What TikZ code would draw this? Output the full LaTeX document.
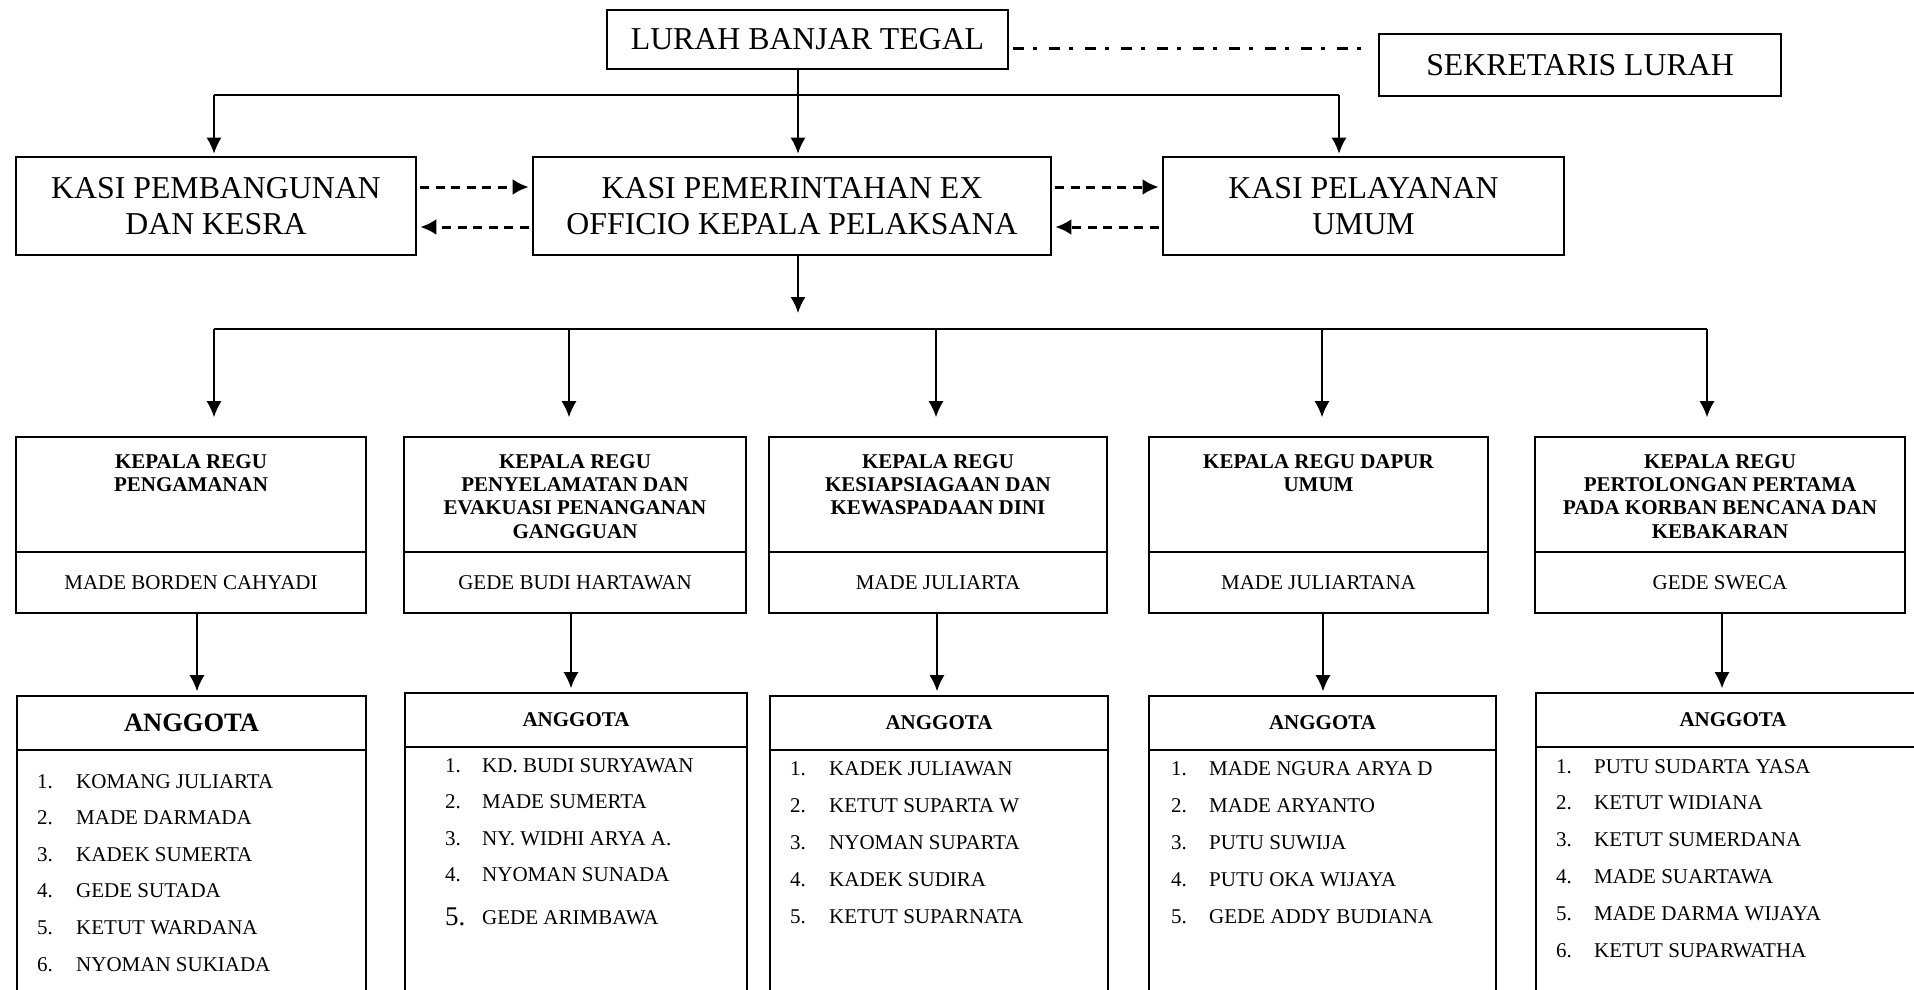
\documentclass[tikz,border=0pt]{standalone}
\usepackage{fontspec}
\setmainfont{Liberation Serif}
\usetikzlibrary{arrows.meta}
\newcommand{\garistebal}{2.7pt}
\newcommand{\garistipis}{1.6pt}

\begin{document}
\begin{tikzpicture}[x=1pt,y=-1pt,
    kotak/.style={draw, rectangle, line width=\garistebal, inner sep=0pt, align=center, font=\fontsize{31.8}{36}\selectfont},
    regu/.style={draw, rectangle, line width=\garistipis, inner sep=0pt, align=center, font=\fontsize{21}{23}\selectfont},
    judul/.style={anchor=north, inner sep=0pt, align=center, font=\bfseries\fontsize{21}{23.3}\selectfont},
    daftar/.style={anchor=west, inner sep=0pt, text height=14pt, text depth=0pt, font=\fontsize{21}{23}\selectfont},
    garis/.style={line width=\garistipis},
    panah/.style={line width=\garistipis, -{Latex[length=16pt,width=15pt]}},
    putus/.style={line width=3pt, dash pattern=on 9pt off 6.5pt, shorten <=3pt, shorten >=3pt, -{Latex[length=16pt,width=16pt]}}]
  \useasboundingbox (0,0) rectangle (1914,989);
  \clip (0,0) rectangle (1914,989);

  % lurah dan sekretaris
  \node (lurah) at (807.5,39.5) [kotak, minimum width=401pt, minimum height=59pt] {LURAH BANJAR TEGAL};
  \node (sekretaris) at (1580,65) [kotak, minimum width=402pt, minimum height=62pt] {SEKRETARIS LURAH};
  \coordinate (titik) at ([yshift=-8.5pt]lurah.east);
  \draw[line width=3pt, dash pattern=on 11pt off 9pt on 4pt off 12pt, shorten <=4pt, shorten >=8pt] (titik) -- (titik -| sekretaris.west);

  % kasi
  \node (pembangunan) at (216,206) [kotak, minimum width=400pt, minimum height=98pt] {KASI PEMBANGUNAN\\DAN KESRA};
  \node (pemerintahan) at (792,206) [kotak, minimum width=518pt, minimum height=98pt] {KASI PEMERINTAHAN EX\\OFFICIO KEPALA PELAKSANA};
  \node (pelayanan) at (1363.5,206) [kotak, minimum width=401pt, minimum height=98pt] {KASI PELAYANAN\\UMUM};

  \coordinate (cabangkiri) at (214,95);
  \coordinate (cabangtengah) at (798,95);
  \coordinate (cabangkanan) at (1339,95);
  \draw[garis] (cabangkiri) -- (cabangkanan);
  \draw[garis] (lurah.south -| cabangtengah) -- (cabangtengah);
  \draw[panah, shorten >=2pt] (cabangkiri) -- (pembangunan.north -| cabangkiri);
  \draw[panah, shorten >=2pt] (cabangtengah) -- (pemerintahan.north -| cabangtengah);
  \draw[panah, shorten >=2pt] (cabangkanan) -- (pelayanan.north -| cabangkanan);

  \draw[putus] ([yshift=19pt]pembangunan.east) -- ([yshift=19pt]pemerintahan.west);
  \draw[putus] ([yshift=-21pt]pemerintahan.west) -- ([yshift=-21pt]pembangunan.east);
  \draw[putus] ([yshift=19pt]pemerintahan.east) -- ([yshift=19pt]pelayanan.west);
  \draw[putus] ([yshift=-21pt]pelayanan.west) -- ([yshift=-21pt]pemerintahan.east);

  \coordinate (turun) at (798,313);
  \draw[panah] (pemerintahan.south -| turun) -- (turun);
  \coordinate (bagikiri) at (214,329);
  \coordinate (bagikanan) at (1707,329);
  \draw[garis] (bagikiri) -- (bagikanan);

  % kepala regu
  \foreach \x/\lebar/\judul/\nama [count=\i] in {
      191/350/{KEPALA REGU\\PENGAMANAN}/MADE BORDEN CAHYADI,
      575/342/{KEPALA REGU\\PENYELAMATAN DAN\\EVAKUASI PENANGANAN\\GANGGUAN}/GEDE BUDI HARTAWAN,
      938/338/{KEPALA REGU\\KESIAPSIAGAAN DAN\\KEWASPADAAN DINI}/MADE JULIARTA,
      1318.5/339/{KEPALA REGU DAPUR\\UMUM}/MADE JULIARTANA,
      1720/370/{KEPALA REGU\\PERTOLONGAN PERTAMA\\PADA KORBAN BENCANA DAN\\KEBAKARAN}/GEDE SWECA}
  {
    \node (regu\i) at (\x,494.5) [regu, minimum width=\lebar pt, minimum height=115pt] {};
    \node (judul\i) at ([yshift=-18pt]regu\i.north) [judul] {\judul};
    \node (ketua\i) at (\x,582.5) [regu, minimum width=\lebar pt, minimum height=61pt] {\nama};
  }
  \foreach \x [count=\i] in {214,569,936,1322,1707}
  {
    \coordinate (cabang\i) at (\x,329);
    \draw[panah, shorten >=19pt] (cabang\i) -- (regu\i.north -| cabang\i);
  }

  % anggota
  \foreach \x/\lebar/\atas/\ukuran [count=\i] in {191.5/349/723/26.5, 576/342/720/21, 939/338/723/21, 1322.5/347/723/21, 1733/394/720/21}
  {
    \node (anggota\i) at (\x,\atas) [regu, minimum width=\lebar pt, minimum height=54pt, font=\bfseries\fontsize{\ukuran}{\ukuran}\selectfont] {ANGGOTA};
    \node (isi\i) at (\x,{\atas+157}) [regu, minimum width=\lebar pt, minimum height=260pt] {};
  }
  \foreach \x [count=\i] in {197,571,937,1323,1722}
  {
    \coordinate (bawah\i) at (\x,650);
    \draw[panah, shorten >=4pt] (ketua\i.south -| bawah\i) -- (anggota\i.north -| bawah\i);
  }

  % daftar anggota
  \foreach \nama [count=\i] in {KOMANG JULIARTA, MADE DARMADA, KADEK SUMERTA, GEDE SUTADA, KETUT WARDANA, NYOMAN SUKIADA}
  {
    \node (no1\i) at (37,{781+36.6*(\i-1)}) [daftar] {\i.};
    \node (nm1\i) at (76,{781+36.6*(\i-1)}) [daftar] {\nama};
  }
  \foreach \nama [count=\i] in {KD. BUDI SURYAWAN, MADE SUMERTA, NY. WIDHI ARYA A., NYOMAN SUNADA}
  {
    \node (no2\i) at (445,{765+36.6*(\i-1)}) [daftar] {\i.};
    \node (nm2\i) at (482,{765+36.6*(\i-1)}) [daftar] {\nama};
  }
  \node (no25) at (445,916) [daftar, text height=19pt, font=\fontsize{27}{27}\selectfont] {5.};
  \node (nm25) at (482,917) [daftar] {GEDE ARIMBAWA};
  \foreach \nama [count=\i] in {KADEK JULIAWAN, KETUT SUPARTA W, NYOMAN SUPARTA, KADEK SUDIRA, KETUT SUPARNATA}
  {
    \node (no3\i) at (790,{768+37.2*(\i-1)}) [daftar] {\i.};
    \node (nm3\i) at (829,{768+37.2*(\i-1)}) [daftar] {\nama};
  }
  \foreach \nama [count=\i] in {MADE NGURA ARYA D, MADE ARYANTO, PUTU SUWIJA, PUTU OKA WIJAYA, GEDE ADDY BUDIANA}
  {
    \node (no4\i) at (1171,{768+37.2*(\i-1)}) [daftar] {\i.};
    \node (nm4\i) at (1209,{768+37.2*(\i-1)}) [daftar] {\nama};
  }
  \foreach \nama [count=\i] in {PUTU SUDARTA YASA, KETUT WIDIANA, KETUT SUMERDANA, MADE SUARTAWA, MADE DARMA WIJAYA, KETUT SUPARWATHA}
  {
    \node (no5\i) at (1556,{766+36.8*(\i-1)}) [daftar] {\i.};
    \node (nm5\i) at (1594,{766+36.8*(\i-1)}) [daftar] {\nama};
  }
\end{tikzpicture}
\end{document}
